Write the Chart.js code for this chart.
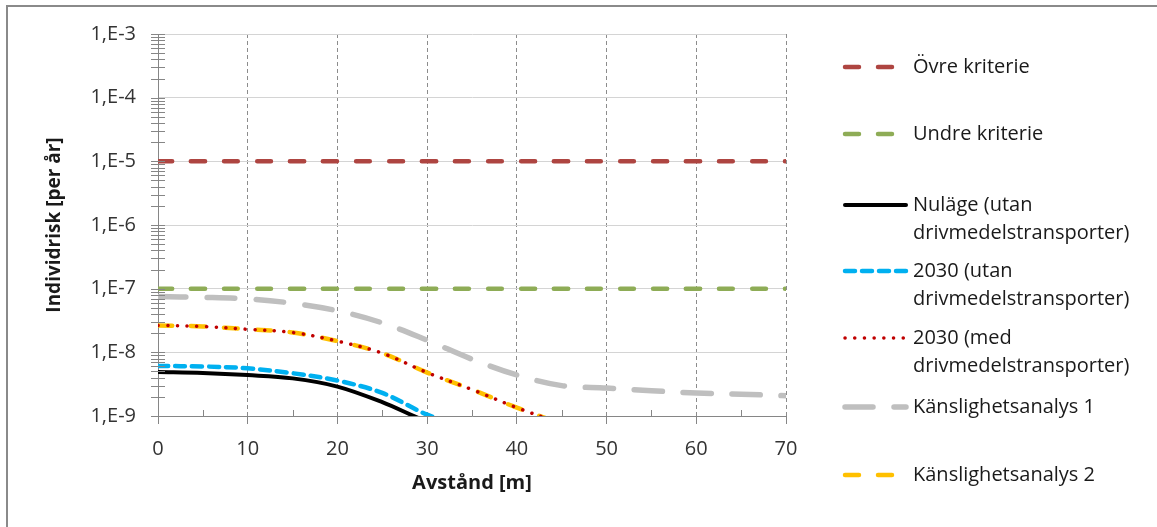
<!DOCTYPE html>
<html>
<head>
<meta charset="utf-8">
<script src="https://cdn.jsdelivr.net/npm/chart.js@4.4.1/dist/chart.umd.min.js"></script>
<style>
  html, body { margin: 0; padding: 0; overflow: hidden; background: #fff; }
  #wrap { position: relative; width: 1157px; height: 527px; }
  #frame { position: absolute; left: 6px; top: 5px; width: 1200px; height: 600px;
           border-left: 2px solid #8a8a8a; border-top: 2px solid #8a8a8a; }
  canvas { position: absolute; left: 0; top: 0; }
</style>
</head>
<body>
<div id="wrap"><div id="frame"></div><canvas id="chart1" width="1157" height="527"></canvas></div>
<script>
// avstånd [m]
const distances = [0, 5, 10, 15, 20, 25, 30, 35, 40, 45, 50, 55, 60, 65, 70];

const ovreKriterie  = [1e-5, 1e-5, 1e-5, 1e-5, 1e-5, 1e-5, 1e-5, 1e-5, 1e-5, 1e-5, 1e-5, 1e-5, 1e-5, 1e-5, 1e-5];
const undreKriterie = [1e-7, 1e-7, 1e-7, 1e-7, 1e-7, 1e-7, 1e-7, 1e-7, 1e-7, 1e-7, 1e-7, 1e-7, 1e-7, 1e-7, 1e-7];
const nulage        = [4.9e-9, 4.75e-9, 4.4e-9, 3.9e-9, 2.9e-9, 1.65e-9, 8.2e-10, 5e-10, null, null, null, null, null, null, null];
const utan2030      = [6.1e-9, 6.0e-9, 5.6e-9, 4.7e-9, 3.6e-9, 2.3e-9, 1.05e-9, 6e-10, null, null, null, null, null, null, null];
const med2030       = [2.65e-8, 2.55e-8, 2.3e-8, 2.05e-8, 1.5e-8, 9.7e-9, 4.8e-9, 2.6e-9, 1.35e-9, 7.5e-10, 4e-10, null, null, null, null];
const kanslighet1   = [7.5e-8, 7.3e-8, 6.9e-8, 5.9e-8, 4.5e-8, 2.9e-8, 1.55e-8, 7.8e-9, 4.4e-9, 3.0e-9, 2.75e-9, 2.5e-9, 2.3e-9, 2.2e-9, 2.08e-9];
const kanslighet2   = [2.65e-8, 2.55e-8, 2.3e-8, 2.05e-8, 1.5e-8, 9.7e-9, 4.8e-9, 2.6e-9, 1.35e-9, 7.5e-10, 4e-10, null, null, null, null];

const yExponents = [-9, -8, -7, -6, -5, -4, -3];
const xTicks = [0, 10, 20, 30, 40, 50, 60, 70];
const xMinorTicks = [5, 15, 25, 35, 45, 55, 65];

const FONT = '"Open Sans", Lato, sans-serif';
const AXIS = '#868686';

function pts(vals) {
  return distances.map((d, i) => ({ x: d, y: vals[i] }));
}

// legend to the right, drawn by hand to keep Excel's uneven spacing
const legendRows = [67, 134, 205, 271, 338, 407, 475];

const sidePlugin = {
  id: 'side',
  afterDraw(chart) {
    const ctx = chart.ctx;
    const ys = chart.scales.y, xs = chart.scales.x;
    ctx.save();
    // minor ticks on y axis (crossing the axis)
    ctx.strokeStyle = AXIS;
    ctx.lineWidth = 1;
    ys.ticks.forEach(t => {
      const py = Math.round(ys.getPixelForValue(t.value)) + 0.5;
      ctx.beginPath();
      ctx.moveTo(xs.left - 7, py);
      ctx.lineTo(xs.left + 7, py);
      ctx.stroke();
    });
    // minor ticks on x axis, pointing up
    xMinorTicks.forEach(v => {
      const px = Math.round(xs.getPixelForValue(v)) + 0.5;
      ctx.beginPath();
      ctx.moveTo(px, ys.bottom);
      ctx.lineTo(px, ys.bottom - 6);
      ctx.stroke();
    });

    // legend
    ctx.font = '20px ' + FONT;
    ctx.textBaseline = 'middle';
    ctx.fillStyle = '#1a1a1a';
    chart.data.datasets.forEach((ds, i) => {
      const y = legendRows[i];
      ctx.save();
      ctx.strokeStyle = ds.borderColor;
      ctx.lineWidth = ds.borderWidth;
      ctx.lineCap = ds.borderCapStyle || 'butt';
      ctx.setLineDash(ds.borderDash || []);
      ctx.beginPath();
      ctx.moveTo(845, y);
      ctx.lineTo(906, y);
      ctx.stroke();
      ctx.restore();
      // word wrap
      const words = ds.label.split(' ');
      const lines = [];
      let cur = '';
      words.forEach(w => {
        const test = cur ? cur + ' ' + w : w;
        if (ctx.measureText(test).width > 236 && cur) { lines.push(cur); cur = w; }
        else cur = test;
      });
      lines.push(cur);
      lines.forEach((l, k) => ctx.fillText(l, 913, y + k * 28));
    });
    ctx.restore();
  }
};

new Chart(document.getElementById('chart1'), {
  type: 'line',
  data: {
    datasets: [{
        label: 'Övre kriterie',
        data: pts(ovreKriterie),
        borderColor: '#ae4541',
        borderWidth: 4.5,
        borderDash: [14, 19],
        borderCapStyle: 'round'
      }, {
        label: 'Undre kriterie',
        data: pts(undreKriterie),
        borderColor: '#8eac56',
        borderWidth: 4.5,
        borderDash: [14, 19],
        borderCapStyle: 'round'
      }, {
        label: 'Nuläge (utan drivmedelstransporter)',
        data: pts(nulage),
        borderColor: '#000000',
        borderWidth: 4,
        borderCapStyle: 'round'
      }, {
        label: '2030 (utan drivmedelstransporter)',
        data: pts(utan2030),
        borderColor: '#00b0f0',
        borderWidth: 4.5,
        borderDash: [10, 7],
        borderCapStyle: 'round'
      }, {
        label: '2030 (med drivmedelstransporter)',
        data: pts(med2030),
        borderColor: '#c00000',
        borderWidth: 3.5,
        borderDash: [0.1, 9.6],
        borderCapStyle: 'round'
      }, {
        label: 'Känslighetsanalys 1',
        data: pts(kanslighet1),
        borderColor: '#bfbfbf',
        borderWidth: 5.5,
        borderDash: [28, 21],
        borderCapStyle: 'round'
      }, {
        label: 'Känslighetsanalys 2',
        data: pts(kanslighet2),
        borderColor: '#ffc000',
        borderWidth: 4.5,
        borderDash: [14, 19],
        borderCapStyle: 'round'
      }
    ]
  },
  options: {
    responsive: false,
    animation: false,
    events: [],
    layout: { padding: { top: 33, right: 371, bottom: 0, left: 0 } },
    elements: {
      point: { radius: 0 },
      line: { tension: 0.35, fill: false }
    },
    plugins: {
      legend: { display: false },
      tooltip: { enabled: false }
    },
    scales: {
      x: {
        type: 'linear',
        min: 0,
        max: 70,
        afterBuildTicks: s => { s.ticks = xTicks.map(v => ({ value: v })); },
        afterFit: s => { s.height = 111; },
        ticks: {
          color: '#333',
          font: { family: FONT, size: 20 },
          padding: 13,
          maxRotation: 0
        },
        grid: {
          color: c => (c.tick && c.tick.value === 0) ? 'rgba(0,0,0,0)' : '#8c8c8c',
          lineWidth: 1,
          drawTicks: true,
          tickLength: 8,
          tickColor: AXIS
        },
        border: { color: AXIS, width: 1, dash: [4, 3] },
        title: {
          display: true,
          text: 'Avstånd [m]',
          color: '#1a1a1a',
          font: { family: FONT, size: 20, weight: 'bold' },
          padding: { top: 0, bottom: 32 }
        }
      },
      y: {
        type: 'logarithmic',
        min: 1e-9,
        max: 1e-3,
        afterBuildTicks: s => {
          const t = [];
          yExponents.forEach(e => {
            for (let m = 1; m <= 9; m++) {
              if (e === -3 && m > 1) break;
              t.push({ value: m * Math.pow(10, e) });
            }
          });
          s.ticks = t;
        },
        afterFit: s => { s.width = 158; },
        ticks: {
          autoSkip: false,
          color: '#333',
          font: { family: FONT, size: 20 },
          padding: 22,
          callback: v => {
            const e = Math.round(Math.log10(v));
            return Math.abs(v / Math.pow(10, e) - 1) < 1e-6 ? '1,E' + e : '';
          }
        },
        grid: {
          color: c => {
            if (!c.tick) return 'rgba(0,0,0,0)';
            const v = c.tick.value;
            const e = Math.round(Math.log10(v));
            return Math.abs(v / Math.pow(10, e) - 1) < 1e-6 ? '#d4d4d4' : 'rgba(0,0,0,0)';
          },
          lineWidth: 1,
          drawTicks: false
        },
        border: { color: AXIS, width: 1 },
        title: {
          display: true,
          text: 'Individrisk [per år]',
          color: '#1a1a1a',
          font: { family: FONT, size: 19, weight: 'bold' },
          padding: { top: 43, bottom: 0 }
        }
      }
    }
  },
  plugins: [sidePlugin]
});
</script>
</body>
</html>
